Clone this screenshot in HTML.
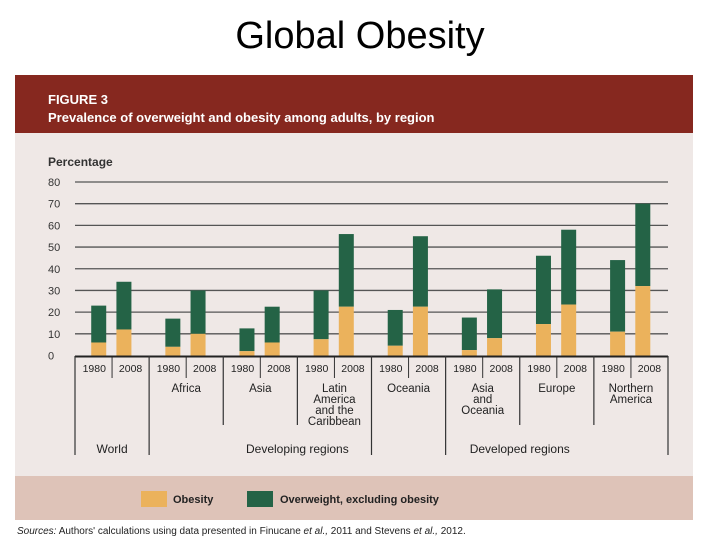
<!DOCTYPE html>
<html><head><meta charset="utf-8"><style>
body{margin:0;background:#fff;width:720px;height:540px;overflow:hidden;font-family:"Liberation Sans",sans-serif}
</style></head><body>
<svg width="720" height="540" xmlns="http://www.w3.org/2000/svg">
<text x="360" y="48" text-anchor="middle" font-size="38" fill="#000" font-family="Liberation Sans, sans-serif">Global Obesity</text>
<rect x="15" y="75" width="678" height="58" fill="#86281f"/>
<text x="48" y="104" font-size="13" font-weight="bold" fill="#fff">FIGURE 3</text>
<text x="48" y="122" font-size="13" font-weight="bold" fill="#fff">Prevalence of overweight and obesity among adults, by region</text>
<rect x="15" y="133" width="678" height="343" fill="#efe8e6"/>
<rect x="15" y="476" width="678" height="44" fill="#dec3b8"/>
<text x="48" y="166" font-size="12" font-weight="bold" fill="#333">Percentage</text>
<g id="grid"></g><g id="bars"></g><g id="axis"></g>
<rect x="141" y="491" width="26" height="16" fill="#ebb25c"/>
<text x="173" y="503" font-size="11" font-weight="bold" fill="#222">Obesity</text>
<rect x="247" y="491" width="26" height="16" fill="#246346"/>
<text x="280" y="503" font-size="11" font-weight="bold" fill="#222">Overweight, excluding obesity</text>
<text x="17" y="534" font-size="10" fill="#222"><tspan font-style="italic">Sources:</tspan> Authors' calculations using data presented in Finucane <tspan font-style="italic">et al.,</tspan> 2011 and Stevens <tspan font-style="italic">et al.,</tspan> 2012.</text>
</svg>
<script>
const groups=["World","Africa","Asia","Latin America and the Caribbean","Oceania","Asia and Oceania","Europe","Northern America"];
const groupLines=[["World"],["Africa"],["Asia"],["Latin","America","and the","Caribbean"],["Oceania"],["Asia","and","Oceania"],["Europe"],["Northern","America"]];
const years=["1980","2008"];
const total1980=[23,17,12.5,30,21,17.5,46,44];
const total2008=[34,30,22.5,56,55,30.5,58,70];
const obese1980=[6,4,2,7.5,4.5,2.5,14.5,11];
const obese2008=[12,10,6,22.5,22.5,8,23.5,32];
const yTicks=[0,10,20,30,40,50,60,70,80];
const NS="http://www.w3.org/2000/svg";
const y0=355.5,yTop=182,xL=75,xR=668,gw=(xR-xL)/8;
const y=v=>y0-(v/80)*(y0-yTop);
const x=(g,i)=>xL+g*gw+gw*0.32+i*gw*0.34;
function mk(t,a,p){const e=document.createElementNS(NS,t);for(const k in a)e.setAttribute(k,a[k]);p.appendChild(e);return e;}
const grid=document.getElementById('grid'),bars=document.getElementById('bars'),ax=document.getElementById('axis');
yTicks.forEach(v=>{
 if(v>0){const l=mk('line',{x1:xL,x2:xR,y1:y(v),y2:y(v),stroke:'#555','stroke-width':1.3},grid);
 
 }
 const t=mk('text',{x:48,y:y(v)+4,'font-size':11,fill:'#333'},grid);t.textContent=v;
 
 
});
const tots=[total1980,total2008],obs=[obese1980,obese2008];
groups.forEach((g,gi)=>{
 [0,1].forEach(i=>{
  const bx=x(gi,i)-7.5,T=tots[i][gi],O=obs[i][gi];
  const r1=mk('rect',{x:bx,width:15,y:y(T),height:y(O)-y(T),fill:'#246346'},bars);
  
  
  const r2=mk('rect',{x:bx,width:15,y:y(O),height:y0-y(O),fill:'#ebb25c'},bars);
  
  
  const t=mk('text',{x:xL+gi*gw+gw*(i?0.75:0.26),y:372,'font-size':10.5,'text-anchor':'middle',fill:'#222'},ax);t.textContent=years[i];
  
  
 });
 const mid=xL+gi*gw+gw/2;
 if(gi>0){groupLines[gi].forEach((s,k)=>{const t=mk('text',{x:mid,y:392+k*11,'font-size':11.5,'text-anchor':'middle',fill:'#222'},ax);t.textContent=s;
  
  });}
 const sl=mk('line',{x1:xL+gi*gw+gw/2,x2:xL+gi*gw+gw/2,y1:357,y2:378,stroke:'#333','stroke-width':1},ax);
 
 
});
const axl=mk('line',{x1:xL,x2:xR,y1:356.5,y2:356.5,stroke:'#222','stroke-width':2},ax);


const seps=[[0,455],[1,455],[2,425],[3,425],[4,455],[5,455],[6,425],[7,425],[8,455]];
seps.forEach(s=>{const l=mk('line',{x1:xL+s[0]*gw,x2:xL+s[0]*gw,y1:356,y2:s[1],stroke:'#333','stroke-width':1.2},ax);
 
 });
[["World",xL+gw/2],["Developing regions",xL+gw*2.5+gw/2],["Developed regions",xL+gw*6]].forEach(r=>{
 const t=mk('text',{x:r[1],y:453,'font-size':12,'text-anchor':'middle',fill:'#222'},ax);t.textContent=r[0];
 
 });
</script>
</body></html>
